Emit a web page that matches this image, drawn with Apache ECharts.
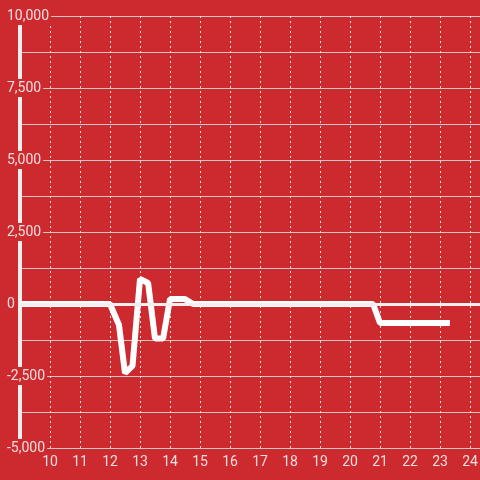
<!DOCTYPE html>
<html>
<head>
<meta charset="utf-8">
<style>
  html, body { margin: 0; padding: 0; background: #cc2a2f; }
  #chart { width: 480px; height: 480px; }
</style>
<script src="https://cdn.jsdelivr.net/npm/echarts@6/dist/echarts.min.js"></script>
</head>
<body>
<div id="chart"></div>
<script>
// 数据
var xValues = [9, 12.0, 12.3, 12.5, 12.75, 13.0, 13.27, 13.5, 13.77, 14.0, 14.5, 14.77, 20.77, 21.0, 23.33];
var yValues = [0, 0, -730, -2400, -2150, 870, 730, -1200, -1200, 170, 170, 0, 0, -660, -660];

var yTicks = [-5000, -2500, 0, 2500, 5000, 7500, 10000];

var bg = '#cc2a2f';
var points = xValues.map(function (x, i) { return [x, yValues[i]]; });

var myChart = echarts.init(document.getElementById('chart'));

var option = {
    backgroundColor: bg,
    animation: false,
    textStyle: {
        fontFamily: 'Roboto, sans-serif'
    },
    // 网格右边超出画布，使 x 轴最大值对齐整数刻度
    grid: {
        left: 20,
        right: -20,
        top: 16,
        bottom: 32,
        outerBoundsMode: 'none'
    },
    xAxis: {
        type: 'value',
        min: 9,
        max: 25,
        interval: 1,
        axisLine: { show: false },
        axisTick: { show: false },
        axisLabel: {
            showMinLabel: false,
            showMaxLabel: false,
            color: '#f2dede',
            fontSize: 14,
            margin: 7
        },
        splitLine: {
            show: true,
            lineStyle: { color: '#f0e4e4', type: [2, 3], width: 1 }
        }
    },
    yAxis: {
        type: 'value',
        min: -5000,
        max: 10000,
        interval: 1250,
        axisLine: {
            show: true,
            lineStyle: { color: '#f2eeee', width: 4 }
        },
        axisTick: { show: false },
        axisLabel: {
            align: 'left',
            margin: 13,
            formatter: function (v) {
                if (yTicks.indexOf(v) < 0) return '';
                return '{b|' + v.toLocaleString('en-US') + '}';
            },
            rich: {
                b: {
                    color: '#f2dede',
                    fontSize: 14,
                    backgroundColor: bg,
                    padding: [2, 2, 2, 0]
                }
            }
        },
        splitLine: {
            show: true,
            lineStyle: { color: '#d9c4c4', width: 1 }
        }
    },
    series: [
        {
            type: 'line',
            data: points,
            showSymbol: false,
            symbol: 'none',
            lineStyle: { color: '#ffffff', width: 6 },
            markLine: {
                silent: true,
                symbol: 'none',
                label: { show: false },
                lineStyle: { color: '#f4eeee', width: 3, type: 'solid' },
                data: [{ yAxis: 0 }]
            },
            z: 3
        }
    ]
};

myChart.setOption(option);
</script>
</body>
</html>
